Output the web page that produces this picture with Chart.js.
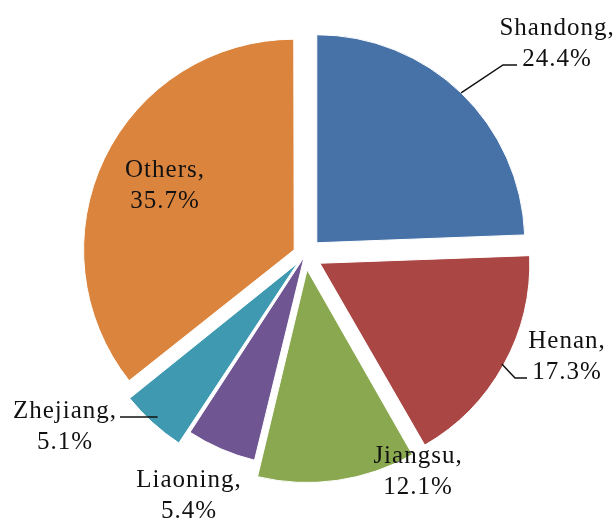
<!DOCTYPE html>
<html>
<head>
<meta charset="utf-8">
<script src="https://cdn.jsdelivr.net/npm/chart.js@4.4.0/dist/chart.umd.min.js"></script>
<style>
  html, body { margin: 0; padding: 0; background: #fff; }
  #wrap { width: 616px; height: 520px; }
</style>
</head>
<body>
<div id="wrap"><canvas id="pie" width="616" height="520"></canvas></div>
<script>
const provinces = ['Shandong', 'Henan', 'Jiangsu', 'Liaoning', 'Zhejiang', 'Others']
const shares = [24.4, 17.3, 12.1, 5.4, 5.1, 35.7]
const sliceColors = ['#4672A8', '#AA4644', '#8AA84F', '#6F5692', '#3F99B1', '#DB843D']
// pull-out of each slice (Chart.js moves an arc by offset / 4)
const explode = [68, 68, 60, 8, 44, 48]

// label text spots, first line baseline, relative to pie centre
const labelSpots = [[252, -220], [262, 93], [113, 208], [-116, 232], [-240, 163], [-140, -78]]
// leader lines: [elbow, end] relative to pie centre, null = no leader
const leaders = [
  [[198, -190], [212, -190]],
  [[210, 123], [222, 123]],
  null,
  null,
  [null, [-185, 162]],
  null
]

const labelPlugin = {
  id: 'sliceLabels',
  afterDatasetsDraw(chart) {
    const { ctx } = chart
    const arcs = chart.getDatasetMeta(0).data
    const cx = arcs[0].x
    const cy = arcs[0].y
    ctx.save()
    ctx.font = '25px "Liberation Serif", "Times New Roman", serif'
    ctx.letterSpacing = '1px'
    ctx.fillStyle = '#111111'
    ctx.strokeStyle = '#111111'
    ctx.lineWidth = 1.5
    ctx.textAlign = 'center'
    ctx.textBaseline = 'alphabetic'

    arcs.forEach((arc, i) => {
      const leader = leaders[i]
      if (leader) {
        const mid = (arc.startAngle + arc.endAngle) / 2
        const push = explode[i] / 4
        const r = arc.outerRadius
        const sx = cx + Math.cos(mid) * (r + push)
        const sy = cy + Math.sin(mid) * (r + push)
        ctx.beginPath()
        ctx.moveTo(sx, sy)
        if (leader[0]) ctx.lineTo(cx + leader[0][0], cy + leader[0][1])
        ctx.lineTo(cx + leader[1][0], cy + leader[1][1])
        ctx.stroke()
      }
      const [lx, ly] = labelSpots[i]
      ctx.fillText(provinces[i] + ',', cx + lx, cy + ly)
      ctx.fillText(shares[i].toFixed(1) + '%', cx + lx, cy + ly + 31)
    })
    ctx.restore()
  }
}

new Chart(document.getElementById('pie'), {
  type: 'pie',
  data: {
    labels: provinces,
    datasets: [{
      data: shares,
      backgroundColor: sliceColors,
      borderColor: '#ffffff',
      borderWidth: 1,
      offset: explode,
      hoverOffset: 0
    }]
  },
  options: {
    responsive: false,
    animation: false,
    radius: 208,
    layout: { padding: { left: 80, right: 86, top: 20, bottom: 30 } },
    plugins: {
      legend: { display: false },
      tooltip: { enabled: false }
    }
  },
  plugins: [labelPlugin]
})
</script>
</body>
</html>
